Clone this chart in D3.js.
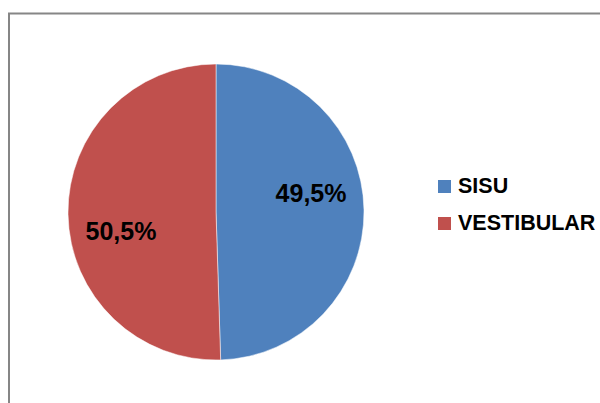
<!DOCTYPE html>
<html>
<head>
<meta charset="utf-8">
<script src="https://cdn.jsdelivr.net/npm/d3@7"></script>
<style>
  body { margin: 0; background: #fff; }
  svg { display: block; font-family: 'Liberation Sans', Arial, sans-serif; }
</style>
</head>
<body>
<div id="chart"></div>
<script>
/* chart data */
const categories = ['SISU', 'VESTIBULAR'];
const values = [49.5, 50.5];
const labels = ['49,5%', '50,5%'];
const colors = ['#4F81BD', '#C0504D'];

const W = 600;
const H = 403;

const svg = d3.select('#chart')
  .append('svg')
  .attr('width', W)
  .attr('height', H);

/* outer frame of the chart area */
svg.append('rect')
  .attr('x', 9)
  .attr('y', 13.5)
  .attr('width', 620)
  .attr('height', 420)
  .attr('fill', 'none')
  .attr('stroke', '#868686')
  .attr('stroke-width', 2);

const cx = 216;
const cy = 212;
const r = 148;

const pie = d3.pie().sort(null).value(function (d) { return d; });
const arc = d3.arc().innerRadius(0).outerRadius(r);
const arcs = pie(values);

const g = svg.append('g')
  .attr('transform', 'translate(' + cx + ',' + cy + ')');

g.selectAll('path')
  .data(arcs)
  .enter()
  .append('path')
  .attr('d', arc)
  .attr('fill', function (d, i) { return colors[i]; })
  .attr('stroke', '#fff')
  .attr('stroke-width', 0.5);

/* percentage labels - slightly rotated back from the slice middle like Excel does */
const labelR = r * 0.655;
const shift = -10.5 * Math.PI / 180;
g.selectAll('text.lbl')
  .data(arcs)
  .enter()
  .append('text')
  .attr('class', 'lbl')
  .attr('transform', function (d) {
    const a = (d.startAngle + d.endAngle) / 2 + shift;
    const px = labelR * Math.sin(a);
    const py = -labelR * Math.cos(a);
    return 'translate(' + px + ',' + (py + 9) + ')';
  })
  .attr('text-anchor', 'middle')
  .style('font-size', '25px')
  .style('font-weight', 'bold')
  .style('fill', '#000')
  .text(function (d, i) { return labels[i]; });

/* legend */
const legend = svg.append('g')
  .attr('transform', 'translate(438,0)');

const item = legend.selectAll('g')
  .data(categories)
  .enter()
  .append('g')
  .attr('transform', function (d, i) { return 'translate(0,' + (193 + i * 37) + ')'; });

item.append('rect')
  .attr('x', 0)
  .attr('y', -13)
  .attr('width', 13)
  .attr('height', 13)
  .attr('fill', function (d, i) { return colors[i]; });

item.append('text')
  .attr('x', 20)
  .attr('y', 0)
  .style('font-size', '21.5px')
  .style('font-weight', 'bold')
  .style('fill', '#000')
  .text(function (d) { return d; });
</script>
</body>
</html>
